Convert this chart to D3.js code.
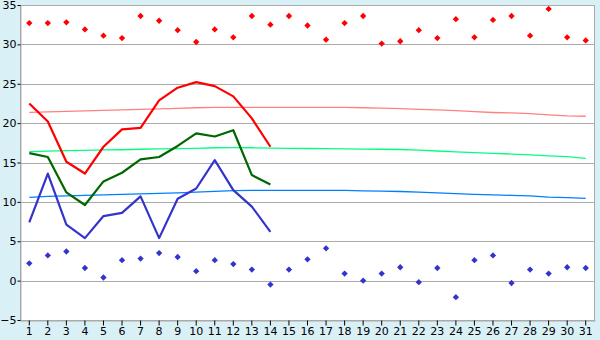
<!DOCTYPE html>
<html>
<head>
<meta charset="utf-8">
<script src="https://cdn.jsdelivr.net/npm/d3@7"></script>
<style>
  body { margin: 0; background: #daf0f7; }
  svg { display: block; }
  .tick text { font-family: "DejaVu Sans", Verdana, sans-serif; font-size: 11px; fill: #000; }
</style>
</head>
<body>
<div class="chart"></div>
<script>
var days = d3.range(1, 32);
var yTicks = [-5, 0, 5, 10, 15, 20, 25, 30, 35];

// record highs / lows (markers)
var recMax = [32.7, 32.7, 32.8, 31.9, 31.1, 30.8, 33.6, 33.0, 31.8, 30.3, 31.9, 30.9, 33.6, 32.5, 33.6, 32.4,
              30.6, 32.7, 33.6, 30.1, 30.4, 31.8, 30.8, 33.2, 30.9, 33.1, 33.6, 31.1, 34.5, 30.9, 30.5];
var recMin = [2.2, 3.2, 3.7, 1.6, 0.4, 2.6, 2.8, 3.5, 3.0, 1.2, 2.6, 2.1, 1.4, -0.5, 1.4, 2.7,
              4.1, 0.9, 0.0, 0.9, 1.7, -0.2, 1.6, -2.1, 2.6, 3.2, -0.3, 1.4, 0.9, 1.7, 1.6];

// this month (days 1-14)
var tMax = [22.5, 20.2, 15.1, 13.6, 17.0, 19.2, 19.4, 22.9, 24.5, 25.2, 24.7, 23.4, 20.6, 17.0];
var tMean = [16.2, 15.7, 11.2, 9.6, 12.6, 13.7, 15.4, 15.7, 17.1, 18.7, 18.3, 19.1, 13.4, 12.2];
var tMin = [7.4, 13.6, 7.1, 5.4, 8.2, 8.6, 10.7, 5.4, 10.4, 11.7, 15.3, 11.5, 9.4, 6.2];

// normals
var nMax = [21.37, 21.42, 21.5, 21.56, 21.62, 21.68, 21.74, 21.8, 21.88, 21.95, 22.0, 22.0, 22.0, 22.0, 22.0, 22.0,
            22.0, 22.0, 21.95, 21.9, 21.85, 21.75, 21.68, 21.58, 21.45, 21.35, 21.3, 21.2, 21.05, 20.92, 20.87];
var nMean = [16.37, 16.45, 16.5, 16.55, 16.6, 16.62, 16.68, 16.72, 16.75, 16.8, 16.87, 16.88, 16.87, 16.83, 16.8, 16.78,
             16.75, 16.72, 16.7, 16.68, 16.65, 16.58, 16.46, 16.35, 16.25, 16.15, 16.07, 15.97, 15.85, 15.75, 15.53];
var nMin = [10.58, 10.7, 10.77, 10.83, 10.9, 10.96, 11.02, 11.09, 11.15, 11.25, 11.34, 11.42, 11.47, 11.47, 11.47, 11.47,
            11.47, 11.47, 11.4, 11.36, 11.32, 11.25, 11.15, 11.05, 10.95, 10.9, 10.83, 10.75, 10.6, 10.55, 10.45];

var W = 600, H = 340;
var m = {left: 20, right: 595, top: 5, bottom: 320};

var svg = d3.select(".chart").append("svg").attr("width", W).attr("height", H);

var x = d3.scaleBand().domain(days).range([m.left, m.right]);
var cx = function(d) { return x(d) + x.bandwidth() / 2; };
var y = d3.scaleLinear().domain([-5, 35]).range([m.bottom, m.top]);

svg.append("rect").attr("x", m.left).attr("y", m.top)
   .attr("width", m.right - m.left).attr("height", m.bottom - m.top)
   .attr("fill", "#fff");

// grid
svg.append("g").selectAll("line").data(yTicks).enter().append("line")
   .attr("x1", m.left).attr("x2", m.right)
   .attr("y1", function(d) { return Math.round(y(d)) + 0.5; })
   .attr("y2", function(d) { return Math.round(y(d)) + 0.5; })
   .attr("stroke", "#aaa");

svg.append("rect").attr("x", m.left + 0.5).attr("y", m.top + 0.5)
   .attr("width", m.right - m.left - 1).attr("height", m.bottom - m.top)
   .attr("fill", "none").attr("stroke", "#aaa");

var xAxis = d3.axisBottom(x).tickSize(5).tickSizeOuter(0).tickPadding(2);
var yAxis = d3.axisLeft(y).tickValues(yTicks).tickSize(3).tickSizeOuter(0).tickPadding(1);

var gx = svg.append("g").attr("transform", "translate(0," + (m.bottom + 0.5) + ")").call(xAxis);
var gy = svg.append("g").attr("transform", "translate(" + (m.left + 0.5) + ",0)").call(yAxis);
gx.select(".domain").attr("stroke", "#aaa");
gy.select(".domain").attr("stroke", "#aaa");
gx.selectAll(".tick line").attr("stroke", "#000");
gy.selectAll(".tick line").attr("stroke", "#000");

// normals
function thin(vals, col) {
  var line = d3.line().x(function(d, i) { return cx(days[i]); }).y(function(d) { return y(d); });
  svg.append("path").datum(vals).attr("d", line)
     .attr("fill", "none").attr("stroke", col).attr("stroke-width", 1.3);
}
thin(nMax, "#ff8080");
thin(nMean, "#00ff80");
thin(nMin, "#0080ff");

// this month's lines
function thick(vals, col) {
  var line = d3.line().x(function(d, i) { return cx(days[i]); }).y(function(d) { return y(d); });
  svg.append("path").datum(vals).attr("d", line)
     .attr("fill", "none").attr("stroke", col).attr("stroke-width", 2.2)
     .attr("stroke-linejoin", "round");
}
thick(tMax, "#ff0000");
thick(tMean, "#006600");
thick(tMin, "#3434cc");

// record markers (small pixel diamonds)
var sym = d3.symbol().type(d3.symbolSquare).size(20);
function marks(vals, col) {
  svg.append("g").selectAll("path").data(vals).enter().append("path")
     .attr("d", sym)
     .attr("transform", function(d, i) { return "translate(" + cx(days[i]) + "," + y(d) + ") rotate(45)"; })
     .attr("fill", col);
}
marks(recMax, "#ff0000");
marks(recMin, "#3434cc");
</script>
</body>
</html>
